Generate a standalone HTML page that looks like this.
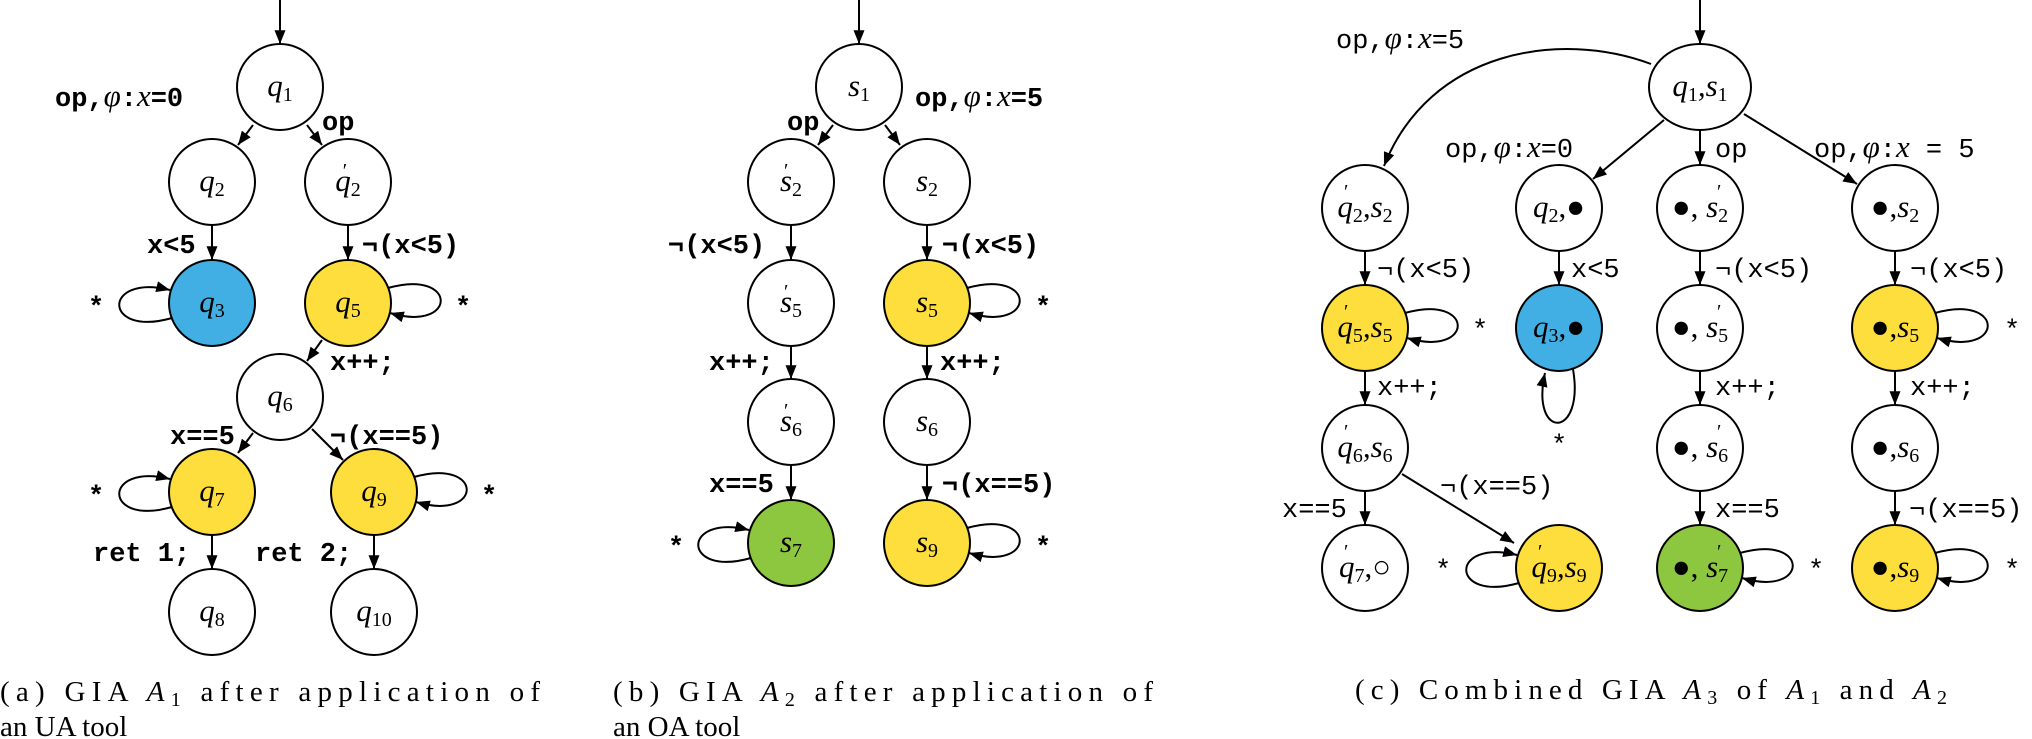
<!DOCTYPE html>
<html><head><meta charset="utf-8"><style>
html,body{margin:0;padding:0;background:#fff}
svg{display:block}
.m{font-family:"Liberation Mono",monospace;font-size:27px;font-weight:bold}
.mc{font-family:"Liberation Mono",monospace;font-size:27px}
.n{font-family:"Liberation Serif",serif;font-style:italic;font-size:31px}
.s{font-size:20px;font-style:normal}
.cap{font-family:"Liberation Serif",serif;font-size:29px}
.i{font-style:italic}
circle{stroke:#000;stroke-width:2;fill:#fff}
.e{stroke:#000;stroke-width:2;fill:none;marker-end:url(#ah)}
</style></head><body>
<svg width="2032" height="739" viewBox="0 0 2032 739" xmlns="http://www.w3.org/2000/svg">
<defs><marker id="ah" viewBox="0 0 10 8" refX="10" refY="4" markerWidth="14" markerHeight="11" markerUnits="userSpaceOnUse" orient="auto"><path d="M0,0 L10,4 L0,8 z" fill="#000"/></marker></defs>

<!-- Panel a -->
<path class="e" d="M280,0 L280,44"/>
<path class="e" d="M253,125 L238,145"/>
<path class="e" d="M307,125 L322,145"/>
<path class="e" d="M212,225 L212,260"/>
<path class="e" d="M348,225 L348,260"/>
<path class="e" d="M322,340 L307,361"/>
<path class="e" d="M253,433 L238,453"/>
<path class="e" d="M312,429 L343,460"/>
<path class="e" d="M212,535 L212,569"/>
<path class="e" d="M374,535 L374,569"/>
<path class="e" d="M172,318 C102,338 102,273 170,290"/>
<path class="e" d="M388,288 C458,268 458,333 390,313"/>
<path class="e" d="M172,507 C102,527 102,462 170,479"/>
<path class="e" d="M414,477 C484,457 484,522 416,502"/>
<circle cx="280" cy="87" r="43"/>
<circle cx="212" cy="182" r="43"/>
<circle cx="348" cy="182" r="43"/>
<circle cx="212" cy="303" r="43" style="fill:#41afe3"/>
<circle cx="348" cy="303" r="43" style="fill:#fdde3d"/>
<circle cx="280" cy="397" r="43"/>
<circle cx="212" cy="492" r="43" style="fill:#fdde3d"/>
<circle cx="374" cy="492" r="43" style="fill:#fdde3d"/>
<circle cx="212" cy="612" r="43"/>
<circle cx="374" cy="612" r="43"/>
<g class="n" text-anchor="middle">
<text x="280" y="96">q<tspan class="s" dy="5">1</tspan></text>
<text x="212" y="191">q<tspan class="s" dy="5">2</tspan></text>
<text x="348" y="191">q<tspan class="s" dy="5">2</tspan><tspan dx="-18" dy="-19" class="s">′</tspan></text>
<text x="212" y="312">q<tspan class="s" dy="5">3</tspan></text>
<text x="348" y="312">q<tspan class="s" dy="5">5</tspan></text>
<text x="280" y="406">q<tspan class="s" dy="5">6</tspan></text>
<text x="212" y="501">q<tspan class="s" dy="5">7</tspan></text>
<text x="374" y="501">q<tspan class="s" dy="5">9</tspan></text>
<text x="212" y="621">q<tspan class="s" dy="5">8</tspan></text>
<text x="374" y="621">q<tspan class="s" dy="5">10</tspan></text>
</g>
<g class="m">
<text x="55" y="106">op,<tspan class="n" style="font-weight:normal">φ</tspan>:<tspan class="n" style="font-weight:normal">x</tspan>=0</text>
<text x="322" y="130">op</text>
<text x="147" y="253">x&lt;5</text>
<text x="362" y="253">¬(x&lt;5)</text>
<text x="88" y="315">*</text>
<text x="455" y="315">*</text>
<text x="330" y="370">x++;</text>
<text x="170" y="444">x==5</text>
<text x="330" y="444">¬(x==5)</text>
<text x="88" y="504">*</text>
<text x="481" y="504">*</text>
<text x="93" y="561">ret 1;</text>
<text x="255" y="561">ret 2;</text>
</g>
<text class="cap" x="0" y="701" textLength="540">(a) GIA <tspan class="i">A</tspan><tspan font-size="20" dy="5">1</tspan><tspan dy="-5"> after application of</tspan></text>
<text class="cap" x="0" y="736">an UA tool</text>

<!-- Panel b -->
<path class="e" d="M859,0 L859,44"/>
<path class="e" d="M833,125 L818,145"/>
<path class="e" d="M885,125 L900,145"/>
<path class="e" d="M791,225 L791,260"/>
<path class="e" d="M927,225 L927,260"/>
<path class="e" d="M791,346 L791,379"/>
<path class="e" d="M927,346 L927,379"/>
<path class="e" d="M791,465 L791,500"/>
<path class="e" d="M927,465 L927,500"/>
<path class="e" d="M967,288 C1037,268 1037,333 969,313"/>
<path class="e" d="M751,558 C681,578 681,513 749,530"/>
<path class="e" d="M967,528 C1037,508 1037,573 969,553"/>
<circle cx="859" cy="87" r="43"/>
<circle cx="791" cy="182" r="43"/>
<circle cx="927" cy="182" r="43"/>
<circle cx="791" cy="303" r="43"/>
<circle cx="927" cy="303" r="43" style="fill:#fdde3d"/>
<circle cx="791" cy="422" r="43"/>
<circle cx="927" cy="422" r="43"/>
<circle cx="791" cy="543" r="43" style="fill:#8dc63f"/>
<circle cx="927" cy="543" r="43" style="fill:#fdde3d"/>
<g class="n" text-anchor="middle">
<text x="859" y="96">s<tspan class="s" dy="5">1</tspan></text>
<text x="791" y="191">s<tspan class="s" dy="5">2</tspan><tspan dx="-18" dy="-19" class="s">′</tspan></text>
<text x="927" y="191">s<tspan class="s" dy="5">2</tspan></text>
<text x="791" y="312">s<tspan class="s" dy="5">5</tspan><tspan dx="-18" dy="-19" class="s">′</tspan></text>
<text x="927" y="312">s<tspan class="s" dy="5">5</tspan></text>
<text x="791" y="431">s<tspan class="s" dy="5">6</tspan><tspan dx="-18" dy="-19" class="s">′</tspan></text>
<text x="927" y="431">s<tspan class="s" dy="5">6</tspan></text>
<text x="791" y="552">s<tspan class="s" dy="5">7</tspan></text>
<text x="927" y="552">s<tspan class="s" dy="5">9</tspan></text>
</g>
<g class="m">
<text x="787" y="130">op</text>
<text x="915" y="106">op,<tspan class="n" style="font-weight:normal">φ</tspan>:<tspan class="n" style="font-weight:normal">x</tspan>=5</text>
<text x="668" y="253">¬(x&lt;5)</text>
<text x="942" y="253">¬(x&lt;5)</text>
<text x="1035" y="315">*</text>
<text x="709" y="370">x++;</text>
<text x="940" y="370">x++;</text>
<text x="709" y="492">x==5</text>
<text x="942" y="492">¬(x==5)</text>
<text x="668" y="555">*</text>
<text x="1035" y="555">*</text>
</g>
<text class="cap" x="613" y="701" textLength="540">(b) GIA <tspan class="i">A</tspan><tspan font-size="20" dy="5">2</tspan><tspan dy="-5"> after application of</tspan></text>
<text class="cap" x="613" y="736">an OA tool</text>

<!-- Panel c -->
<path class="e" d="M1700,0 L1700,44"/>
<path class="e" d="M1651,64 C1560,30 1430,50 1384,166"/>
<path class="e" d="M1664,120 L1593,179"/>
<path class="e" d="M1700,130 L1700,165"/>
<path class="e" d="M1744,114 L1857,184"/>
<path class="e" d="M1365,251 L1365,285"/>
<path class="e" d="M1559,251 L1559,285"/>
<path class="e" d="M1700,251 L1700,285"/>
<path class="e" d="M1895,251 L1895,285"/>
<path class="e" d="M1365,371 L1365,405"/>
<path class="e" d="M1700,371 L1700,405"/>
<path class="e" d="M1895,371 L1895,405"/>
<path class="e" d="M1365,491 L1365,525"/>
<path class="e" d="M1700,491 L1700,525"/>
<path class="e" d="M1895,491 L1895,525"/>
<path class="e" d="M1402,474 L1514,543"/>
<path class="e" d="M1573,369 C1585,440 1530,440 1545,373"/>
<path class="e" d="M1405,313 C1475,293 1475,358 1407,338"/>
<path class="e" d="M1935,313 C2005,293 2005,358 1937,338"/>
<path class="e" d="M1519,583 C1449,603 1449,538 1517,555"/>
<path class="e" d="M1740,553 C1810,533 1810,598 1742,578"/>
<path class="e" d="M1935,553 C2005,533 2005,598 1937,578"/>
<ellipse cx="1700" cy="87" rx="51" ry="43" style="stroke:#000;stroke-width:2;fill:#fff"/>
<circle cx="1365" cy="208" r="43"/>
<circle cx="1559" cy="208" r="43"/>
<circle cx="1700" cy="208" r="43"/>
<circle cx="1895" cy="208" r="43"/>
<circle cx="1365" cy="328" r="43" style="fill:#fdde3d"/>
<circle cx="1559" cy="328" r="43" style="fill:#41afe3"/>
<circle cx="1700" cy="328" r="43"/>
<circle cx="1895" cy="328" r="43" style="fill:#fdde3d"/>
<circle cx="1365" cy="448" r="43"/>
<circle cx="1700" cy="448" r="43"/>
<circle cx="1895" cy="448" r="43"/>
<circle cx="1365" cy="568" r="43"/>
<circle cx="1559" cy="568" r="43" style="fill:#fdde3d"/>
<circle cx="1700" cy="568" r="43" style="fill:#8dc63f"/>
<circle cx="1895" cy="568" r="43" style="fill:#fdde3d"/>
<g class="n" text-anchor="middle">
<text x="1700" y="96">q<tspan class="s" dy="5">1</tspan><tspan dy="-5">,s</tspan><tspan class="s" dy="5">1</tspan></text>
<text x="1365" y="217">q<tspan class="s" dy="5">2</tspan><tspan dy="-5">,s</tspan><tspan class="s" dy="5">2</tspan></text>
<text x="1559" y="217">q<tspan class="s" dy="5">2</tspan><tspan dy="-5" style="font-style:normal">,●</tspan></text>
<text x="1700" y="217"><tspan style="font-style:normal">●,</tspan> s<tspan class="s" dy="5">2</tspan></text>
<text x="1895" y="217"><tspan style="font-style:normal">●,</tspan>s<tspan class="s" dy="5">2</tspan></text>
<text x="1365" y="337">q<tspan class="s" dy="5">5</tspan><tspan dy="-5">,s</tspan><tspan class="s" dy="5">5</tspan></text>
<text x="1559" y="337">q<tspan class="s" dy="5">3</tspan><tspan dy="-5" style="font-style:normal">,●</tspan></text>
<text x="1700" y="337"><tspan style="font-style:normal">●,</tspan> s<tspan class="s" dy="5">5</tspan></text>
<text x="1895" y="337"><tspan style="font-style:normal">●,</tspan>s<tspan class="s" dy="5">5</tspan></text>
<text x="1365" y="457">q<tspan class="s" dy="5">6</tspan><tspan dy="-5">,s</tspan><tspan class="s" dy="5">6</tspan></text>
<text x="1700" y="457"><tspan style="font-style:normal">●,</tspan> s<tspan class="s" dy="5">6</tspan></text>
<text x="1895" y="457"><tspan style="font-style:normal">●,</tspan>s<tspan class="s" dy="5">6</tspan></text>
<text x="1365" y="577">q<tspan class="s" dy="5">7</tspan><tspan dy="-5" style="font-style:normal">,○</tspan></text>
<text x="1559" y="577">q<tspan class="s" dy="5">9</tspan><tspan dy="-5">,s</tspan><tspan class="s" dy="5">9</tspan></text>
<text x="1700" y="577"><tspan style="font-style:normal">●,</tspan> s<tspan class="s" dy="5">7</tspan></text>
<text x="1895" y="577"><tspan style="font-style:normal">●,</tspan>s<tspan class="s" dy="5">9</tspan></text>
</g>
<g class="n s" style="font-size:20px">
<text x="1344" y="198">′</text><text x="1344" y="318">′</text><text x="1344" y="438">′</text><text x="1344" y="558">′</text><text x="1538" y="558">′</text>
<text x="1717" y="198">′</text><text x="1717" y="318">′</text><text x="1717" y="438">′</text><text x="1717" y="558">′</text>
</g>
<g class="mc">
<text x="1336" y="48">op,<tspan class="n">φ</tspan>:<tspan class="n">x</tspan>=5</text>
<text x="1445" y="157">op,<tspan class="n">φ</tspan>:<tspan class="n">x</tspan>=0</text>
<text x="1715" y="157">op</text>
<text x="1814" y="157">op,<tspan class="n">φ</tspan>:<tspan class="n">x</tspan> = 5</text>
<text x="1377" y="277">¬(x&lt;5)</text>
<text x="1571" y="277">x&lt;5</text>
<text x="1715" y="277">¬(x&lt;5)</text>
<text x="1910" y="277">¬(x&lt;5)</text>
<text x="1472" y="338">*</text>
<text x="2004" y="338">*</text>
<text x="1377" y="395">x++;</text>
<text x="1715" y="395">x++;</text>
<text x="1910" y="395">x++;</text>
<text x="1551" y="453">*</text>
<text x="1440" y="494">¬(x==5)</text>
<text x="1282" y="517">x==5</text>
<text x="1715" y="517">x==5</text>
<text x="1909" y="517">¬(x==5)</text>
<text x="1435" y="578">*</text>
<text x="1808" y="578">*</text>
<text x="2004" y="578">*</text>
</g>
<text class="cap" x="1355" y="699" textLength="592">(c) Combined GIA <tspan class="i">A</tspan><tspan font-size="20" dy="5">3</tspan><tspan dy="-5"> of </tspan><tspan class="i">A</tspan><tspan font-size="20" dy="5">1</tspan><tspan dy="-5"> and </tspan><tspan class="i">A</tspan><tspan font-size="20" dy="5">2</tspan></text>
</svg>
</body></html>
